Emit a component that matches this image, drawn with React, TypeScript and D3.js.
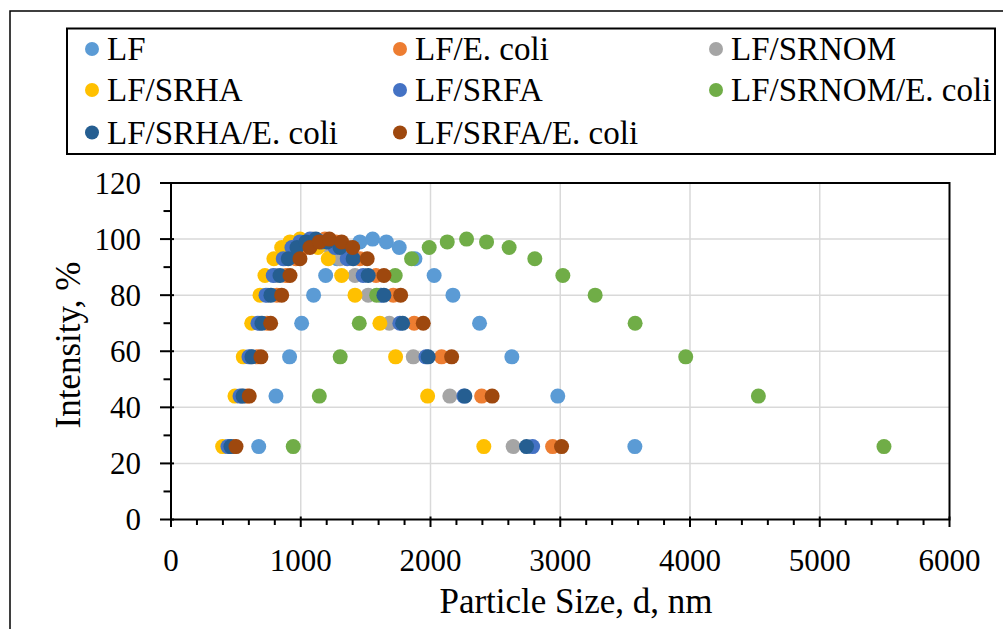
import React from "react";
import * as d3 from "d3";

const levels = [26, 44, 58, 70, 80, 87, 93, 97, 99, 100, 99, 97, 93, 87, 80, 70, 58, 44, 26];

const seriesNames = [
  "LF",
  "LF/E. coli",
  "LF/SRNOM",
  "LF/SRHA",
  "LF/SRFA",
  "LF/SRNOM/E. coli",
  "LF/SRHA/E. coli",
  "LF/SRFA/E. coli",
];
const seriesColors = ["#5B9BD5", "#ED7D31", "#A5A5A5", "#FFC000", "#4472C4", "#70AD47", "#255E91", "#9E480E"];

const sizeLF = [676, 809, 914, 1007, 1099, 1192, 1280, 1370, 1456, 1554, 1660, 1759, 1880, 2028, 2173, 2378, 2627, 2981, 3575];
const sizeLFEcoli = [485, 586, 663, 740, 816, 886, 963, 1032, 1109, 1186, 1271, 1356, 1456, 1580, 1713, 1874, 2085, 2394, 2941];
const sizeLFSRNOM = [455, 547, 616, 686, 747, 809, 878, 948, 1017, 1094, 1163, 1225, 1302, 1418, 1520, 1682, 1867, 2149, 2637];
const sizeLFSRHA = [398, 493, 557, 622, 686, 724, 793, 853, 917, 994, 1060, 1133, 1212, 1315, 1418, 1610, 1731, 1978, 2411];
const sizeLFSRFA = [439, 532, 601, 670, 732, 788, 865, 932, 994, 1071, 1163, 1264, 1358, 1481, 1618, 1764, 1965, 2257, 2787];
const sizeLFSRNOMEcoli = [942, 1143, 1304, 1451, 1585, 1728, 1854, 1990, 2129, 2278, 2432, 2606, 2804, 3020, 3269, 3577, 3967, 4527, 5495];
const sizeLFSRHAEcoli = [462, 555, 624, 701, 770, 840, 904, 971, 1040, 1117, 1202, 1302, 1404, 1520, 1641, 1785, 1982, 2265, 2740];
const sizeLFSRFAEcoli = [501, 603, 693, 768, 853, 917, 994, 1071, 1143, 1220, 1315, 1400, 1512, 1641, 1770, 1944, 2163, 2475, 3010];

const seriesSizes = [
  sizeLF,
  sizeLFEcoli,
  sizeLFSRNOM,
  sizeLFSRHA,
  sizeLFSRFA,
  sizeLFSRNOMEcoli,
  sizeLFSRHAEcoli,
  sizeLFSRFAEcoli,
];

const xTicks = [0, 1000, 2000, 3000, 4000, 5000, 6000];
const yTicks = [0, 20, 40, 60, 80, 100, 120];
const xMinorTicks = [200, 400, 600, 800, 1200, 1400, 1600, 1800, 2200, 2400, 2600, 2800, 3200, 3400, 3600, 3800, 4200, 4400, 4600, 4800, 5200, 5400, 5600, 5800];
const yMinorTicks = [10, 30, 50, 70, 90, 110];

const FONT = "'Liberation Serif', 'Times New Roman', serif";

export default function App() {
  const W = 1003;
  const H = 629;
  const left = 171;
  const right = 949.5;
  const top = 183;
  const bottom = 519.5;
  const x = d3.scaleLinear().domain([0, 6000]).range([left, right]);
  const y = d3.scaleLinear().domain([0, 120]).range([bottom, top]);
  const r = 7.5;

  const legendCols = [92, 400, 716];
  const legendRows = [49, 90, 132.5];

  return (
    <svg
      width={W}
      height={H}
      style={{ position: "absolute", left: 0, top: 0, background: "#fff" }}
      fontFamily={FONT}
    >
      <rect x={0} y={0} width={W} height={H} fill="#fff" />
      {/* outer frame */}
      <rect x={10} y={11} width={W + 20} height={H + 20} fill="none" stroke="#000" strokeWidth={1.5} />

      {/* legend */}
      <rect x={67} y={28.5} width={928} height={125.5} fill="#fff" stroke="#000" strokeWidth={2} />
      {seriesNames.map((name, i) => {
        const col = i % 3;
        const row = Math.floor(i / 3);
        const cx = legendCols[col];
        const cy = legendRows[row];
        return (
          <g key={name}>
            <circle cx={cx} cy={cy} r={7} fill={seriesColors[i]} />
            <text x={cx + 15} y={cy + 11} fontSize={33} fill="#000">
              {name}
            </text>
          </g>
        );
      })}

      {/* gridlines */}
      {xTicks.filter((t) => t > 0 && t < 6000).map((t) => (
        <line key={"gx" + t} x1={x(t)} x2={x(t)} y1={top} y2={bottom} stroke="#D9D9D9" strokeWidth={1.5} />
      ))}
      {yTicks.filter((t) => t > 0 && t < 120).map((t) => (
        <line key={"gy" + t} x1={left} x2={right} y1={y(t)} y2={y(t)} stroke="#D9D9D9" strokeWidth={1.5} />
      ))}

      {/* points */}
      {seriesSizes.map((sizes, si) => (
        <g key={"s" + si} fill={seriesColors[si]}>
          {sizes.map((v, j) => (
            <circle key={j} cx={x(v)} cy={y(levels[j])} r={r} />
          ))}
        </g>
      ))}

      {/* plot border */}
      <rect x={left} y={top} width={right - left} height={bottom - top} fill="none" stroke="#000" strokeWidth={2} />

      {/* x ticks */}
      {xTicks.map((t) => (
        <line key={"xt" + t} x1={x(t)} x2={x(t)} y1={bottom - 3} y2={bottom + 7.5} stroke="#000" strokeWidth={2} />
      ))}
      {xMinorTicks.map((t) => (
        <line key={"xm" + t} x1={x(t)} x2={x(t)} y1={bottom} y2={bottom + 5.5} stroke="#000" strokeWidth={2} />
      ))}
      {xTicks.map((t) => (
        <text key={"xl" + t} x={x(t)} y={571} textAnchor="middle" fontSize={31} fill="#000">
          {t}
        </text>
      ))}

      {/* y ticks */}
      {yTicks.map((t) => (
        <line key={"yt" + t} x1={left - 11} x2={left + 3} y1={y(t)} y2={y(t)} stroke="#000" strokeWidth={2} />
      ))}
      {yMinorTicks.map((t) => (
        <line key={"ym" + t} x1={left - 7.5} x2={left} y1={y(t)} y2={y(t)} stroke="#000" strokeWidth={2} />
      ))}
      {yTicks.map((t) => (
        <text key={"yl" + t} x={141} y={y(t) + 10.5} textAnchor="end" fontSize={31} fill="#000">
          {t}
        </text>
      ))}

      {/* axis titles */}
      <text x={576} y={613} textAnchor="middle" fontSize={35} fill="#000">
        Particle Size, d, nm
      </text>
      <text
        transform={`translate(80, 345) rotate(-90)`}
        textAnchor="middle"
        fontSize={35}
        fill="#000"
      >
        Intensity, %
      </text>
    </svg>
  );
}
